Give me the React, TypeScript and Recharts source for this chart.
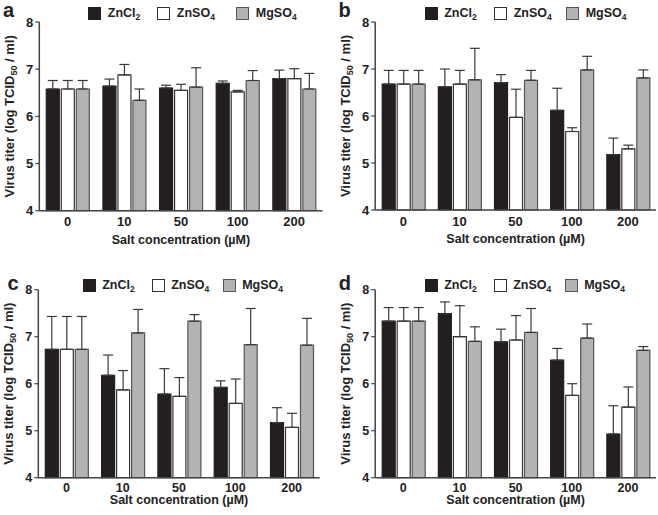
import React from 'react';
import { BarChart, Bar, XAxis, YAxis, ErrorBar, Legend } from 'recharts';

// shared categories / ticks
const concentrations = ['0', '10', '50', '100', '200'];
const yTicks = [4, 5, 6, 7, 8];
const legendLabels = [
  { base: 'ZnCl', sub: '2' },
  { base: 'ZnSO', sub: '4' },
  { base: 'MgSO', sub: '4' },
];

// panel a
const aZnCl2 = [6.58, 6.64, 6.6, 6.7, 6.8];
const aZnCl2Sd = [0.18, 0.15, 0.06, 0.05, 0.18];
const aZnSO4 = [6.58, 6.88, 6.55, 6.52, 6.8];
const aZnSO4Sd = [0.18, 0.22, 0.13, 0.03, 0.21];
const aMgSO4 = [6.58, 6.34, 6.62, 6.76, 6.58];
const aMgSO4Sd = [0.18, 0.24, 0.41, 0.21, 0.33];

// panel b
const bZnCl2 = [6.68, 6.62, 6.71, 6.12, 5.18];
const bZnCl2Sd = [0.29, 0.38, 0.17, 0.47, 0.35];
const bZnSO4 = [6.68, 6.68, 5.97, 5.67, 5.3];
const bZnSO4Sd = [0.29, 0.29, 0.6, 0.08, 0.08];
const bMgSO4 = [6.68, 6.77, 6.76, 6.98, 6.81];
const bMgSO4Sd = [0.29, 0.67, 0.21, 0.29, 0.17];

// panel c
const cZnCl2 = [6.73, 6.18, 5.78, 5.92, 5.17];
const cZnCl2Sd = [0.7, 0.43, 0.54, 0.14, 0.32];
const cZnSO4 = [6.73, 5.87, 5.73, 5.58, 5.07];
const cZnSO4Sd = [0.7, 0.41, 0.4, 0.52, 0.3];
const cMgSO4 = [6.73, 7.08, 7.33, 6.83, 6.82];
const cMgSO4Sd = [0.7, 0.5, 0.14, 0.77, 0.57];

// panel d
const dZnCl2 = [7.33, 7.49, 6.89, 6.5, 4.93];
const dZnCl2Sd = [0.29, 0.25, 0.27, 0.25, 0.6];
const dZnSO4 = [7.33, 7.0, 6.93, 5.75, 5.5];
const dZnSO4Sd = [0.29, 0.66, 0.52, 0.25, 0.43];
const dMgSO4 = [7.33, 6.9, 7.09, 6.97, 6.71];
const dMgSO4Sd = [0.29, 0.31, 0.51, 0.3, 0.08];

const FONT = '"Liberation Sans", Arial, Helvetica, sans-serif';
const TEXT = '#222';
const AXIS = '#444';

const barStyles = [
  { key: 'zncl2', fill: '#231f20', stroke: '#231f20' },
  { key: 'znso4', fill: '#ffffff', stroke: '#333333' },
  { key: 'mgso4', fill: '#b3b3b3', stroke: '#555555' },
];

const buildRows = (series: number[][], sds: number[][]) =>
  concentrations.map((name, i) => {
    const row: any = { name };
    barStyles.forEach((b, s) => {
      row[b.key] = series[s][i];
      row[b.key + 'Err'] = [0, sds[s][i]];
    });
    return row;
  });

const panels = [
  {
    letter: 'a', left: 0, top: 0, letterLeft: 3, letterTop: 0,
    margin: { top: 22, right: 6.5, left: 9.3, bottom: 17.3 },
    tickMargin: 2.5, tickFont: 13, xLabelDy: 33, legendLeft: 88.3, legendTop: 7, legendGaps: [69, 79],
    rows: buildRows([aZnCl2, aZnSO4, aMgSO4], [aZnCl2Sd, aZnSO4Sd, aMgSO4Sd]),
  },
  {
    letter: 'b', left: 329, top: 0, letterLeft: 9.5, letterTop: 0,
    margin: { top: 22, right: 2, left: 16.2, bottom: 18 },
    tickMargin: 2.5, tickFont: 13, xLabelDy: 33, legendLeft: 95.7, legendTop: 7, legendGaps: [69.5, 72],
    rows: buildRows([bZnCl2, bZnSO4, bMgSO4], [bZnCl2Sd, bZnSO4Sd, bMgSO4Sd]),
  },
  {
    letter: 'c', left: 0, top: 257, letterLeft: 7.5, letterTop: 16,
    margin: { top: 32.7, right: 9.2, left: 8.3, bottom: 7.3 },
    tickMargin: 1, tickFont: 12.5, xLabelDy: 26.5, legendLeft: 82.7, legendTop: 22, legendGaps: [69, 71],
    rows: buildRows([cZnCl2, cZnSO4, cMgSO4], [cZnCl2Sd, cZnSO4Sd, cMgSO4Sd]),
  },
  {
    letter: 'd', left: 329, top: 257, letterLeft: 9.7, letterTop: 16,
    margin: { top: 32.7, right: 2, left: 16.2, bottom: 7.3 },
    tickMargin: 1, tickFont: 12.5, xLabelDy: 26.5, legendLeft: 95.7, legendTop: 22, legendGaps: [69, 71],
    rows: buildRows([dZnCl2, dZnSO4, dMgSO4], [dZnCl2Sd, dZnSO4Sd, dMgSO4Sd]),
  },
];

const XTitle = ({ viewBox, dy }: any) => {
  if (!viewBox) return null;
  return (
    <text
      x={viewBox.x + viewBox.width / 2}
      y={viewBox.y + dy}
      textAnchor="middle"
      fontFamily={FONT}
      fontWeight="bold"
      fontSize={12.5}
      fill={TEXT}
    >
      Salt concentration (µM)
    </text>
  );
};

const YTitle = ({ viewBox }: any) => {
  if (!viewBox) return null;
  const x = viewBox.x + 5;
  const y = viewBox.y + viewBox.height / 2;
  return (
    <text
      x={x}
      y={y}
      transform={`rotate(-90 ${x} ${y})`}
      textAnchor="middle"
      fontFamily={FONT}
      fontWeight="bold"
      fontSize={13}
      fill={TEXT}
    >
      Virus titer (log TCID
      <tspan fontSize={9} dy={3}>50</tspan>
      <tspan dy={-3}> / ml)</tspan>
    </text>
  );
};

const LegendBox = ({ gaps }: { gaps: number[] }) => {
  let pos = 0;
  const lefts = legendLabels.map((_, i) => {
    const l = pos;
    pos += gaps[i] || 0;
    return l;
  });
  return (
    <div style={{ position: 'relative', width: 240, height: 14, fontFamily: FONT }}>
      {legendLabels.map((lab, i) => (
        <div
          key={lab.base + i}
          style={{ position: 'absolute', left: lefts[i], top: 0, display: 'flex', alignItems: 'center', height: 13 }}
        >
          <span
            style={{
              display: 'inline-block',
              width: 11,
              height: 11,
              background: barStyles[i].fill,
              border: `1px solid ${barStyles[i].stroke}`,
            }}
          />
          <span style={{ marginLeft: 6.5, fontWeight: 'bold', fontSize: 12.5, color: TEXT, lineHeight: '13px', whiteSpace: 'nowrap' }}>
            {lab.base}
            <span style={{ fontSize: 8.5, position: 'relative', top: 3 }}>{lab.sub}</span>
          </span>
        </div>
      ))}
    </div>
  );
};

const Panel = ({ cfg }: { cfg: any }) => (
  <div style={{ position: 'absolute', left: cfg.left, top: cfg.top, width: 329, height: 258 }}>
    <BarChart
      width={329}
      height={258}
      data={cfg.rows}
      margin={cfg.margin}
      barSize={13}
      barGap={2}
    >
      <XAxis
        dataKey="name"
        height={30}
        tickLine={false}
        tickSize={4}
        tickMargin={cfg.tickMargin}
        axisLine={{ stroke: AXIS, strokeWidth: 1.5 }}
        tick={{ fill: TEXT, fontSize: cfg.tickFont, fontWeight: 'bold', fontFamily: FONT }}
        label={{ content: (p: any) => <XTitle viewBox={p.viewBox} dy={cfg.xLabelDy} /> }}
      />
      <YAxis
        width={30}
        domain={[4, 8]}
        ticks={yTicks}
        interval={0}
        tickSize={4}
        tickMargin={2}
        axisLine={{ stroke: AXIS, strokeWidth: 1.5 }}
        tickLine={{ stroke: AXIS, strokeWidth: 1.2 }}
        tick={{ fill: TEXT, fontSize: cfg.tickFont, fontWeight: 'bold', fontFamily: FONT }}
        label={{ content: (p: any) => <YTitle viewBox={p.viewBox} /> }}
      />
      <Legend
        verticalAlign="middle"
        align="center"
        content={() => <LegendBox gaps={cfg.legendGaps} />}
        wrapperStyle={{ top: cfg.legendTop, left: cfg.legendLeft, width: 240, height: 14 }}
      />
      {barStyles.map((b) => (
        <Bar
          key={b.key}
          dataKey={b.key}
          fill={b.fill}
          stroke={b.stroke}
          strokeWidth={1.2}
          isAnimationActive={false}
        >
          <ErrorBar
            dataKey={b.key + 'Err'}
            direction="y"
            width={5}
            stroke="#3a3a3a"
            strokeWidth={1.2}
            isAnimationActive={false}
          />
        </Bar>
      ))}
    </BarChart>
    <div
      style={{
        position: 'absolute',
        left: cfg.letterLeft,
        top: cfg.letterTop,
        fontFamily: FONT,
        fontWeight: 'bold',
        fontSize: 20,
        lineHeight: '20px',
        color: TEXT,
      }}
    >
      {cfg.letter}
    </div>
  </div>
);

export default function App() {
  return (
    <div style={{ position: 'absolute', left: 0, top: 0, width: 658, height: 515, background: '#fff' }}>
      {panels.map((p) => (
        <Panel key={p.letter} cfg={p} />
      ))}
    </div>
  );
}
